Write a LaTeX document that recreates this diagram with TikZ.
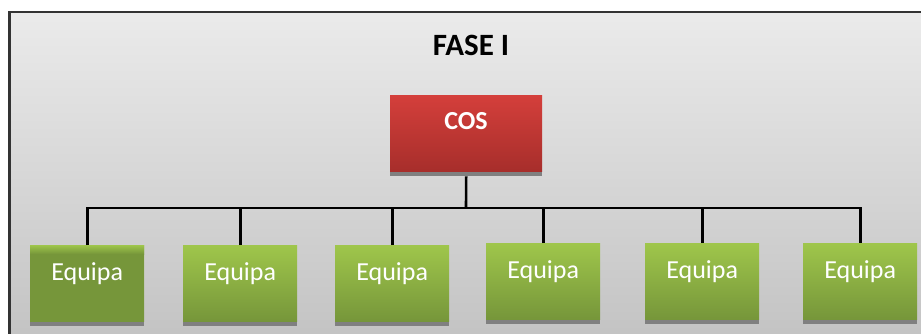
\documentclass[tikz,border=0pt]{standalone}
\usepackage{fontspec}
\setmainfont{Carlito}
\begin{document}
\begin{tikzpicture}[x=1pt,y=-1pt,
  link/.style={line width=2.6pt,black},
  shadowbar/.style={fill=black!50,draw=none},
  greenbox/.style={draw=none,top color=gbtop,bottom color=gbbot},
  lbl/.style={text=white,anchor=base,inner sep=0pt}
]
\definecolor{gbtop}{HTML}{9FC64B}
\definecolor{gbbot}{HTML}{76963A}
\definecolor{cosTop}{HTML}{D43F3B}
\definecolor{cosBot}{HTML}{A72E2B}
\useasboundingbox (0,0) rectangle (921,333);
\begin{scope}
\clip (0,0) rectangle (921,333);
% outer frame with grey gradient
\fill[top color=black!8,bottom color=black!24] (9.5,12) rectangle (940,350);
\draw[line width=2.6pt,black!80] (9.5,350) -- (9.5,12) -- (940,12);
\end{scope}

% title
\node[anchor=base,inner sep=0pt,font=\fontsize{31}{32}\selectfont\bfseries] (title) at (471,55) {FASE I};

% COS box
\fill[shadowbar] (390,165) rectangle (542,176);
\node[draw=none,top color=cosTop,bottom color=cosBot,minimum width=152pt,minimum height=76pt,inner sep=0pt,anchor=north west] (cos) at (390,95) {};
\node[lbl,font=\fontsize{26}{27}\selectfont\bfseries] (cost) at (466,129) {COS};

% team boxes: left edge and top edge
\foreach \i/\xl/\yt in {1/30/245,2/183/245,3/335/245,4/486/243,5/645/243,6/803/243}{
  \fill[shadowbar] (\xl,\yt+70) rectangle (\xl+114,\yt+81);
  \node[greenbox,minimum width=114pt,minimum height=76pt,inner sep=0pt,anchor=north west] (e\i) at (\xl,\yt) {};
}
% first box: light top stripe then uniform dark green
\fill[gbbot] (30,252) rectangle (144,321);
\fill[top color=gbtop,bottom color=gbbot] (30,245) rectangle (144,254);

\foreach \i in {1,...,6}{
  \node[lbl,font=\fontsize{26}{27}\selectfont] (t\i) at ([yshift=-35pt]e\i.north) {Equipa};
}

% connectors
\coordinate (bus) at (466,208);
\draw[link] (cos.south) ++(0,5) -- (bus);
\draw[link] (e1.north) |- (e6.north |- bus) -- (e6.north);
\foreach \i in {2,...,5}{
  \draw[link] (e\i.north) -- (e\i.north |- bus);
}
\end{tikzpicture}
\end{document}
